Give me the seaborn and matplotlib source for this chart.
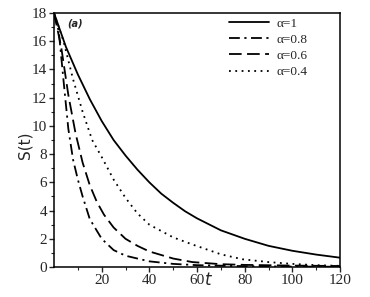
import numpy as np
import matplotlib
matplotlib.use("Agg")
import matplotlib.pyplot as plt
import seaborn as sns
sns.set_style("ticks")
import pandas as pd

# values
t_a10 = [0, 5, 10, 15, 20, 25, 30, 35, 40, 45, 50, 55, 60, 70, 80, 90, 100, 110, 120]
s_a10 = [18, 15.6, 13.65, 11.9, 10.35, 9.0, 7.9, 6.9, 6.0, 5.2, 4.55, 3.95, 3.45, 2.6, 2.0, 1.5, 1.15, 0.88, 0.66]

t_a08 = [0, 2, 4, 6, 8, 10, 12, 15, 20, 25, 30, 40, 50, 60, 80, 100, 120]
s_a08 = [18, 16.7, 13.2, 9.8, 7.6, 6.2, 5.0, 3.4, 2.0, 1.2, 0.8, 0.4, 0.22, 0.13, 0.06, 0.03, 0.02]

t_a06 = [0, 3, 6, 9, 12, 15, 18, 21, 25, 30, 35, 40, 50, 58, 70, 80, 100, 120]
s_a06 = [18, 15.6, 12.2, 9.5, 7.4, 5.8, 4.6, 3.7, 2.8, 2.0, 1.5, 1.1, 0.6, 0.35, 0.2, 0.15, 0.1, 0.07]

t_a04 = [0, 4, 8, 12, 16, 20, 25, 30, 35, 40, 50, 58, 70, 79, 90, 100, 110, 120]
s_a04 = [18, 16, 13.3, 11, 9, 7.8, 6.2, 4.9, 3.8, 3.0, 2.1, 1.6, 0.9, 0.55, 0.35, 0.22, 0.13, 0.08]

series = [
    (t_a10, s_a10, "α=1", "-"),
    (t_a08, s_a08, "α=0.8", (0, (6, 2.5, 1.2, 2.5))),
    (t_a06, s_a06, "α=0.6", (0, (7, 3))),
    (t_a04, s_a04, "α=0.4", (0, (1, 2.5))),
]

fig = plt.figure(figsize=(3.7, 2.97), dpi=100)
ax = fig.add_axes([0.146, 0.101, 0.773, 0.855])

for t, s, lab, ls in series:
    df = pd.DataFrame({"t": t, "S": s})
    sns.lineplot(data=df, x="t", y="S", ax=ax, color="black", linewidth=1.3,
                 linestyle=ls, label=lab)

ax.set_xlim(0, 120)
ax.set_ylim(0, 18)
ax.set_xticks([20, 40, 60, 80, 100, 120])
ax.set_xticks(np.arange(10, 121, 10), minor=True)
ax.set_yticks(np.arange(0, 19, 2))
ax.set_yticks(np.arange(0, 19, 1), minor=True)
for lbl in ax.get_xticklabels() + ax.get_yticklabels():
    lbl.set_family("Liberation Serif")
    lbl.set_fontsize(11)
ax.tick_params(which="major", length=3.5, width=1, direction="out", pad=1.5)
ax.tick_params(which="minor", length=2, width=0.8, direction="out")
for sp in ax.spines.values():
    sp.set_visible(True)
    sp.set_linewidth(1.1)
    sp.set_color("black")

ax.set_xlabel("t", fontsize=12, style="italic", family="DejaVu Sans")
ax.xaxis.set_label_coords(0.538, -0.015)
ax.set_ylabel("S(t)", fontsize=11, family="DejaVu Sans")
ax.yaxis.set_label_coords(-0.075, 0.48)

ax.text(0.045, 0.957, "(a)", transform=ax.transAxes, fontsize=7,
        style="italic", fontweight="bold", va="center", ha="left")

ax.legend(loc="upper left", bbox_to_anchor=(0.57, 1.03), frameon=False,
          prop={"family": "Liberation Serif", "size": 9.5},
          handlelength=3.0, handletextpad=0.6, labelspacing=0.3)

fig.savefig("out.png", dpi=100)
